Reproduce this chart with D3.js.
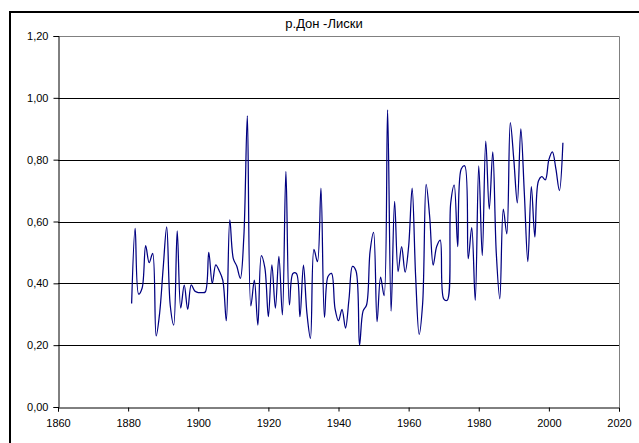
<!DOCTYPE html>
<html>
<head>
<meta charset="utf-8">
<script src="https://cdnjs.cloudflare.com/ajax/libs/d3/7.8.5/d3.min.js"></script>
<style>
  html, body { margin: 0; padding: 0; background: #fff; }
  svg { display: block; }
  text { font-family: Arial, "Liberation Sans", sans-serif; fill: #000; }
</style>
</head>
<body>
<svg id="chart" width="639" height="443"></svg>
<script>
const title = "р.Дон -Лиски";
const startYear = 1881;
const values = [
  0.335, 0.578, 0.365, 0.385, 0.522, 0.467, 0.497, 0.230, 0.305, 0.450,
  0.583, 0.330, 0.265, 0.570, 0.320, 0.394, 0.316, 0.395, 0.375, 0.370,
  0.370, 0.372, 0.500, 0.400, 0.460, 0.440, 0.410, 0.279, 0.605, 0.480,
  0.455, 0.416, 0.550, 0.942, 0.327, 0.410, 0.265, 0.490, 0.450, 0.292,
  0.460, 0.320, 0.487, 0.298, 0.762, 0.330, 0.432, 0.432, 0.292, 0.459,
  0.303, 0.222, 0.510, 0.470, 0.708, 0.290, 0.422, 0.432, 0.319, 0.279,
  0.316, 0.255, 0.350, 0.455, 0.440, 0.200, 0.310, 0.330, 0.503, 0.565,
  0.276, 0.420, 0.360, 0.961, 0.310, 0.665, 0.438, 0.519, 0.436, 0.519,
  0.708, 0.422, 0.235, 0.335, 0.720, 0.616, 0.459, 0.519, 0.540, 0.350,
  0.345, 0.659, 0.718, 0.519, 0.770, 0.780, 0.480, 0.580, 0.345, 0.780,
  0.490, 0.860, 0.640, 0.825, 0.498, 0.350, 0.640, 0.560, 0.920, 0.800,
  0.660, 0.900, 0.692, 0.470, 0.713, 0.550, 0.730, 0.745, 0.735, 0.800,
  0.825, 0.770, 0.700, 0.855
];
const xTicks = [1860, 1880, 1900, 1920, 1940, 1960, 1980, 2000, 2020];
const yTicks = [0, 0.2, 0.4, 0.6, 0.8, 1.0, 1.2];

const data = values.map((v, i) => ({ year: startYear + i, value: v }));

const svg = d3.select("#chart");
const L = 58, R = 619, T = 36, B = 407;

const x = d3.scaleLinear().domain([1860, 2020]).range([L, R]);
const y = d3.scaleLinear().domain([0, 1.2]).range([B, T]);

// outer chart frame (extends past the window)
svg.append("rect")
  .attr("x", 10).attr("y", 12)
  .attr("width", 700).attr("height", 500)
  .attr("fill", "none").attr("stroke", "#000").attr("stroke-width", 2);

// title
svg.append("text")
  .attr("x", 324).attr("y", 28)
  .attr("text-anchor", "middle")
  .attr("font-size", "13px")
  .text(title);

// gridlines
svg.append("g")
  .selectAll("line")
  .data(yTicks.filter(t => t > 0 && t < 1.2))
  .join("line")
  .attr("x1", L).attr("x2", R)
  .attr("y1", d => Math.round(y(d)) + 0.5).attr("y2", d => Math.round(y(d)) + 0.5)
  .attr("stroke", "#000").attr("stroke-width", 1);

// plot border top/right (grey)
svg.append("path")
  .attr("d", `M${L},${T + 0.5}H${R + 0.5}V${B}`)
  .attr("fill", "none").attr("stroke", "#808080").attr("stroke-width", 1);

// axes
const fmt = d => d3.format(".2f")(d).replace(".", ",");
const yAxis = d3.axisLeft(y).tickValues(yTicks).tickFormat(fmt).tickSize(5).tickPadding(5);
const gy = svg.append("g").attr("transform", `translate(${L + 0.5},0)`).call(yAxis);
gy.select(".domain").attr("stroke", "#000");
gy.selectAll(".tick line").attr("stroke", "#000");
gy.selectAll("text").attr("font-size", "11px").attr("fill", "#000")
  .attr("font-family", "Arial, 'Liberation Sans', sans-serif");

const xAxis = d3.axisBottom(x).tickValues(xTicks).tickFormat(d3.format("d")).tickSize(4).tickPadding(8);
const gx = svg.append("g").attr("transform", `translate(0,${B + 0.5})`).call(xAxis);
gx.select(".domain").attr("stroke", "#000");
gx.selectAll(".tick line").attr("stroke", "#000");
gx.selectAll("text").attr("font-size", "11px").attr("fill", "#000")
  .attr("font-family", "Arial, 'Liberation Sans', sans-serif");

// series
const line = d3.line()
  .x(d => x(d.year))
  .y(d => y(d.value))
  .curve(d3.curveCatmullRom.alpha(0.5));

svg.append("path")
  .datum(data)
  .attr("d", line)
  .attr("fill", "none")
  .attr("stroke", "#000080")
  .attr("stroke-width", 1.25);
</script>
</body>
</html>
